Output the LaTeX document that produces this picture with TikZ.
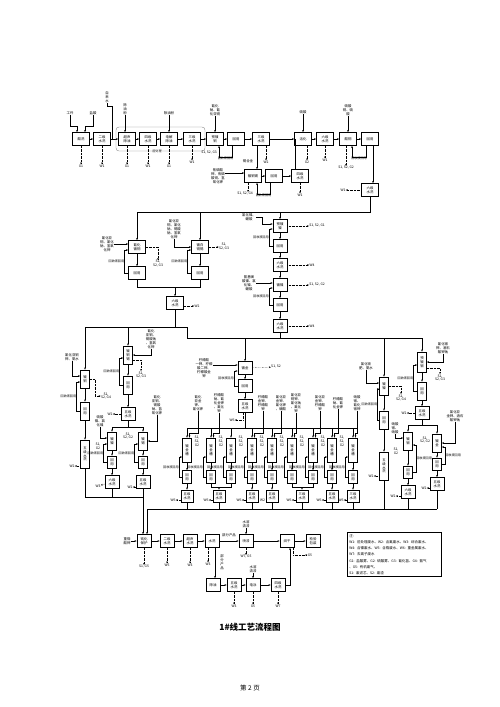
\documentclass[tikz,border=0pt]{standalone}
\usepackage{fontspec}
\setmainfont{Noto Sans CJK SC}
\usetikzlibrary{arrows.meta,calc}
\newcommand\ft{\fontsize{3.4}{3.9}\selectfont}
\newcommand\fsm{\fontsize{3.1}{3.6}\selectfont}
\tikzset{
 bx/.style={draw,line width=0.65pt,minimum width=17pt,minimum height=13pt,inner sep=0.2pt,align=center,font=\ft},
 sb/.style={draw,line width=0.65pt,minimum width=14pt,minimum height=13pt,inner sep=0.2pt,align=center,font=\ft},
 vb/.style={draw,line width=0.65pt,minimum width=9pt,minimum height=18pt,inner sep=0.2pt,align=center,font=\ft},
 lb/.style={inner sep=0.2pt,align=center,font=\ft},
 rl/.style={inner sep=0.3pt,font=\fsm},
 ar/.style={-{Stealth[length=2.2pt,width=1.8pt]},line width=0.45pt},
 ln/.style={line width=0.45pt},
 ou/.style={-{Stealth[length=2pt,width=1.7pt]},line width=0.4pt,densely dotted},
}
\newcommand\loopL[3]{\draw[ar] (#2.west) -- ++(-3.5,0) |- node[rl,pos=0.25,anchor=east,name=#3]{回收液回用} ([yshift=-3pt]#1.west);}
\newcommand\loopB[3]{\draw[ar] ([xshift=-4pt]#2.south) -- ++(0,11) -| node[rl,pos=0.25,below,name=#3]{回收液回用} ([xshift=4pt]#1.south);}
\begin{document}
\begin{tikzpicture}[x=1pt,y=-1pt]
\useasboundingbox (0,0) rectangle (500,707);
% ---------- top row ----------
\node[bx] (b1) at (81,139) {酸洗};
\node[bx] (b2) at (102,139) {二级\\水洗};
\node[bx] (b3) at (127,139) {超声\\除油};
\node[bx] (b4) at (148,139) {四级\\水洗};
\node[bx] (b5) at (169,139) {电解\\除油};
\node[bx] (b6) at (192,139) {三级\\水洗};
\node[bx] (b7) at (215,139) {预镀\\铜};
\node[bx] (b8) at (236,139) {回用};
\node[bx] (b9) at (261,139) {三级\\水洗};
\node[bx] (b10) at (303,139) {活化};
\node[bx] (b11) at (325,139) {六级\\水洗};
\node[bx] (b12) at (348,139) {酸铜};
\node[bx] (b13) at (370,139) {回用};
\node[bx] (b14) at (370,190) {六级\\水洗};
\foreach \a/\b in {b1/b2,b2/b3,b3/b4,b4/b5,b5/b6,b6/b7,b7/b8,b8/b9,b9/b10,b10/b11,b11/b12,b12/b13}
  \draw[ar] (\a) -- (\b);
\draw[ar] ([xshift=3pt]b13.south) -- ([xshift=3pt]b13.south |- b14.north);
\draw[line width=0.35pt,gray,rounded corners=3pt] (116,127) rectangle (205,151);
\node[rl,fill=white] (rg) at (157,151) {前处理};
% inputs
\node[lb] (t1) at (70,113) {工件};
\node[lb] (t2) at (93,113) {盐酸};
\draw[ar] (t1.south) -- ++(0,11) -| ([xshift=-4pt]b1.north);
\draw[ar] (t2.south) -- ++(0,11) -| ([xshift=4pt]b1.north);
\node[lb] (t3) at (107,97) {自\\来\\水};
\coordinate (q1) at (112,139);
\draw[ln] (t3.south) -- ++(0,3) -| (q1);
\node[lb] (t4) at (125,109) {除\\油\\粉};
\draw[ar] (t4.south) -- (t4.south |- b3.north);
\node[lb] (t5) at (169,113) {除油粉};
\draw[ar] (t5) -- (b5);
\node[lb] (t6) at (215,110) {氰化\\钠、氰\\化亚铜};
\draw[ar] (t6) -- (b7);
\node[lb] (t7) at (303,112) {硫酸};
\draw[ar] (t7) -- (b10);
\node[lb] (t8) at (348,110) {硫酸\\铜、硫\\酸};
\draw[ar] (t8) -- (b12);
% outputs
\node[lb] (w1) at (81,166) {G1}; \draw[ou] (b1) -- (w1);
\node[lb] (w2) at (102,166) {W1}; \draw[ou] (b2) -- (w2);
\node[lb] (w3) at (127,166) {G1}; \draw[ou] (b3) -- (w3);
\node[lb] (w4) at (148,166) {W1}; \draw[ou] (b4) -- (w4);
\node[lb] (w5) at (169,166) {G1}; \draw[ou] (b5) -- (w5);
\node[lb] (w6) at (192,162) {W1}; \draw[ou] (b6) -- (w6);
\node[lb] (w7) at (209,153) {S1, S2, G3};
\loopB{b7}{b8}{lp1}
\node[lb] (w9) at (266,162) {W2}; \draw[ou] ([xshift=5pt]b9.south) -- (w9);
\node[lb] (w10) at (307,162) {G2}; \draw[ou] ([xshift=4pt]b10.south) -- (w10);
\node[lb] (w11) at (325,160) {W1}; \draw[ou] (b11) -- (w11);
\node[lb] (w12) at (346,168) {S1, S2, G2}; \draw[ou] ([xshift=-2pt]b12.south) -- (w12);
\loopB{b12}{b13}{lp2}
\node[lb] (w14) at (343,190) {W1}; \draw[ou] (b14) -- (w14);
% ---------- second row ----------
\node[bx] (c1) at (253,176) {镀铜锡};
\node[bx] (c2) at (274,176) {回用};
\node[bx] (c3) at (300,176) {四级\\水洗};
\draw[ar] ([xshift=-4pt]b9.south) -- ([xshift=-4pt]b9.south |- c1.north);
\node[lb] (t9) at (248,161) {锡合金};
\draw[ar] (c1) -- (c2); \draw[ar] (c2) -- (c3);
\coordinate (q2) at (295,139);
\draw[ln] ([xshift=-5pt]c3.north) -- (q2);
\node[lb] (t10) at (218,176) {焦磷酸\\钾、焦磷\\酸铜、氢\\氧化钾};
\draw[ar] ([yshift=3pt]t10.east) -- ([yshift=3pt]c1.west);
\node[lb] (w15) at (245,194) {S1, S2, G4};
\draw[ou] ([xshift=-5pt]c1.south) -- ([xshift=-5pt]c1.south |- w15.north);
\loopB{c1}{c2}{lp3}
\node[lb] (w16) at (300,195) {W1}; \draw[ou] (c3) -- (w16);
% ---------- third section ----------
\coordinate (q3) at (370,212); \coordinate (q4) at (137,212);
\coordinate (q5) at (200,212); \coordinate (q6) at (280,212);
\draw[ln] (b14) -- (q3) -- (q4);
\node[bx] (d1) at (137,247) {氰化\\镀铜};
\node[bx] (d2) at (137,273) {回用};
\node[bx] (d3) at (200,247) {镀白\\铜锡};
\node[bx] (d4) at (200,273) {回用};
\draw[ar] (q4) -- (d1); \draw[ar] (q5) -- (d3);
\draw[ar] (d1) -- (d2); \draw[ar] (d3) -- (d4);
\loopL{d1}{d2}{lp4}
\loopL{d3}{d4}{lp5}
\node[lb] (t11) at (107,244) {氰化亚\\铜、氰化\\钠、氢氧\\化钾};
\draw[ar] (t11.east) -- (t11.east -| d1.west);
\node[lb] (t12) at (174,229) {氰化亚\\铜、氰化\\钠、锡酸\\钠、氢氧\\化钾};
\draw[ar] (t12.south) |- (d3.west);
\node[lb] (w17) at (158,264) {S1,\\S2, G3}; \draw[ou] (d1.east) -| (w17.north);
\node[lb] (w18) at (224,247) {S1,\\S2, G3}; \draw[ou] (d3.east) -- (w18.west);
\node[bx] (e1) at (175,303) {六级\\水洗};
\coordinate (q7) at (175,287);
\draw[ln] (d2) |- (q7); \draw[ln] (d4) |- (q7); \draw[ar] (q7) -- (e1);
\node[lb] (w20) at (197,306) {W2}; \draw[ou] ([yshift=-3pt]e1.east) -- (w20.west);
% nickel chain
\node[sb] (f1) at (280,226) {预镀\\镍};
\node[sb] (f2) at (280,246) {回用};
\node[sb] (f3) at (280,265) {六级\\水洗};
\node[sb] (f4) at (280,285) {镀镍};
\node[sb] (f5) at (280,305) {回用};
\node[sb] (f6) at (280,326) {六级\\水洗};
\draw[ar] (q6) -- (f1);
\foreach \a/\b in {f1/f2,f2/f3,f3/f4,f4/f5,f5/f6} \draw[ar] (\a) -- (\b);
\loopL{f1}{f2}{lp6}
\loopL{f4}{f5}{lp7}
\node[lb] (t13) at (249,217) {氯化镍、\\硼酸};
\draw[ar] (t13.east) -- ++(6,0) |- ([yshift=2pt]f1.west);
\node[lb] (t14) at (249,283) {氨基磺\\酸镍、氯\\化镍、\\硼酸};
\draw[ar] (t14.east) -- (t14.east -| f4.west);
\node[lb] (w21) at (317,226) {S1, S2, G1}; \draw[ou] (f1) -- (w21);
\node[lb] (w22) at (312,265) {W4}; \draw[ou] (f3) -- (w22);
\node[lb] (w23) at (317,285) {S1, S2, G2}; \draw[ou] (f4) -- (w23);
\node[lb] (w24) at (312,326) {W4}; \draw[ou] (f6) -- (w24);
% distribution lines
\coordinate (q8) at (175,327); \coordinate (q9) at (85,327);
\coordinate (q10) at (187,327); \coordinate (q11) at (187,338);
\coordinate (q12) at (422,338); \coordinate (q13) at (128,327);
\coordinate (q14) at (280,338);
\draw[ln] (e1) -- (q8);
\draw[ln] (q9) -- (q10) -- (q11) -- (q12);
\draw[ln] (f6) -- (q14);
% ---------- left columns ----------
\node[vb] (h1) at (85,379) {镀\\铜};
\node[vb] (h2) at (85,411) {回\\用};
\node[vb,minimum height=28pt] (h3) at (85,454) {五\\级\\水\\洗};
\draw[ar] (q9) -- (h1); \draw[ar] (h1) -- (h2); \draw[ar] (h2) -- (h3);
\loopL{h1}{h2}{lp8}
\node[lb] (t15) at (72,357) {氰化亚铜\\钾、氨水};
\draw[ar] (t15.south) |- ([yshift=3pt]h1.west);
\node[lb] (w25) at (106,396) {S1,\\S2, G4}; \draw[ou] (h1.east) -- ++(5,0) |- (w25.west);
\node[lb] (w26) at (72,466) {W2}; \draw[ou] ([yshift=-12pt]h3.west) -- (w26);
\node[vb] (i1) at (128,355) {镀\\铜\\锡};
\node[vb] (i2) at (128,385) {回\\用};
\node[sb] (i3) at (128,414) {五级\\水洗};
\draw[ar] (q13) -- (i1); \draw[ar] (i1) -- (i2); \draw[ar] (i2) -- (i3);
\loopL{i1}{i2}{lp9}
\node[lb] (t16) at (151,339) {氰化\\亚铜、\\锡酸钠\\、氢氧\\化钾};
\draw[ar] (t16.south) |- (i1.east);
\node[lb] (w27) at (141,375) {S1,\\S2, G3}; \draw[ou] ([yshift=-5pt]i1.east) -| (w27.north);
\node[lb] (w28) at (110,414) {W2}; \draw[ou] (i3) -- (w28);
\coordinate (q15) at (128,427); \coordinate (q16) at (112,427); \coordinate (q17) at (143,427);
\draw[ln] (i3) -- (q15); \draw[ln] (q16) -- (q17);
\node[vb] (g1) at (112,441) {镀\\镍};
\node[vb] (g2) at (143,441) {镀\\锡};
\node[vb,minimum height=12pt] (g3) at (112,462) {回\\用};
\node[vb,minimum height=12pt] (g4) at (143,462) {回\\用};
\node[sb] (g5) at (112,482) {六级\\水洗};
\node[sb] (g6) at (143,482) {五级\\水洗};
\draw[ar] (q16) -- (g1); \draw[ar] (q17) -- (g2);
\draw[ar] (g1) -- (g3); \draw[ar] (g2) -- (g4);
\draw[ar] (g3) -- (g5); \draw[ar] (g4) -- (g6);
\loopL{g1}{g3}{lp10}
\loopL{g2}{g4}{lp11}
\node[lb] (t17) at (100,421) {硫酸\\镍、氯\\化镍};
\draw[ar] (t17.south) |- ([yshift=3pt]g1.west);
\node[lb] (t18) at (157,405) {氰化\\亚铜、\\锡酸\\钠、氢\\氧化钾};
\draw[ar] (t18.south) |- (g2.east);
\node[lb] (w29) at (98,446) {S1,\\G2};
\node[lb] (w30) at (128,436) {S1,\\S2, G2};
\node[lb] (w31) at (98,486) {W3}; \draw[ou] (g5) -- (w31);
\node[lb] (w32) at (130,487) {W2}; \draw[ou] ([yshift=-5pt]g6.west) -- (w32.east);
\coordinate (q18) at (85,497); \coordinate (q19) at (143,497); \coordinate (q20) at (112,497);
\draw[ln] (h3) -- (q18) -- (q19);
\draw[ln] (g5) -- (q20);
% ---------- gold column ----------
\coordinate (q22) at (245,338);
\node[sb] (m1) at (245,368) {镀金};
\node[sb] (m2) at (245,386) {回用};
\node[sb] (m3) at (245,406) {五级\\水洗};
\draw[ar] (q22) -- (m1); \draw[ar] (m1) -- (m2); \draw[ar] (m2) -- (m3);
\loopL{m1}{m2}{lp12}
\node[lb] (t19) at (204,368) {柠檬酸\\一钾、柠檬\\酸二钾、\\柠檬酸金\\钾};
\draw[ar] ([yshift=3pt]t19.east) -- ([yshift=3pt]m1.west);
\node[lb] (w33) at (276,367) {S1, S2}; \draw[ou] (m1) -- (w33);
\node[lb] (w34) at (232,420) {W6}; \draw[ou] ([xshift=-2pt]m3.south) |- (w34.east);
% ---------- lower group ----------
\coordinate (q33) at (0,433);
\foreach \i/\x in {1/187,2/211,3/231,4/252,5/272,6/292,7/313,8/332,9/353}{
  \coordinate (u\i) at (\x,428);
  \node[vb,minimum height=24pt] (la\i) at (\x,450) {镀\\金\\槽};
  \node[vb,minimum height=13pt] (lr\i) at (\x,477) {回\\用};
  \draw[ar] (u\i) -- (la\i);
  \draw[ar] (la\i) -- (lr\i);
  \draw[ar] (lr\i.west) -- ++(-3,0) |- node[rl,pos=0.25,anchor=east,name=lq\i]{回收液回用} ([yshift=-7pt]la\i.west);
}
\coordinate (u10) at (357,428);
\draw[ln] (u1) -- (u10);
\draw[ln] (m3) -- (m3 |- u1);
\foreach \i/\x/\tx in {1/198/{氰化\\亚金\\钾、\\氰化钾},2/219/{柠檬酸\\钠、氰\\化金钾\\、氰化\\钾},4/263/{柠檬酸\\金钾、\\柠檬酸\\钾},5/281/{氰化亚\\金钾、\\氰化钾\\、硼酸},6/296/{氰化亚\\铜钾、\\氰化钠\\、氰化\\钾},7/320/{氯化亚\\金钾、\\柠檬酸\\钾},8/338/{柠檬酸\\钠、氰\\化金钾},9/357/{硝酸\\银、\\氰化\\银钾}}{
  \node[lb] (lt\i) at (\x,403) {\tx};
  \draw[ar] (lt\i.south) -- (lt\i.south |- q33) -| ([xshift=2.5pt]la\i.north);
}
\foreach \i/\x in {1/187,2/211,3/231,4/252,5/272,6/292,7/313,8/332}{
  \node[lb] (ls\i) at (\x+10,441) {S1,\\S2,\\G2};
}
\tikzset{wb/.style={sb,minimum width=12pt,minimum height=12pt}}
\node[wb] (lw1) at (187,496) {五级\\水洗};
\node[wb] (lw2) at (219,496) {五级\\水洗};
\node[wb] (lw3) at (252,496) {五级\\水洗};
\node[wb] (lw4) at (272,496) {五级\\水洗};
\node[wb] (lw5) at (302,496) {三级\\水洗};
\node[wb] (lw6) at (332,496) {五级\\水洗};
\node[wb] (lw7) at (353,496) {三级\\水洗};
\coordinate (ym2) at (219,487); \coordinate (ym5) at (302,487);
\draw[ar] (lr1) -- (lw1);
\draw[ln] (lr2) |- (ym2); \draw[ln] (lr3) |- (ym2); \draw[ar] (ym2) -- (lw2);
\draw[ar] (lr4) -- (lw3);
\draw[ar] (lr5) -- (lw4);
\draw[ln] (lr6) |- (ym5); \draw[ln] (lr7) |- (ym5); \draw[ar] (ym5) -- (lw5);
\draw[ar] (lr8) -- (lw6);
\draw[ar] (lr9) -- (lw7);
\foreach \i/\x in {1/173,2/206,3/239,5/289,6/319,7/341}{
  \node[lb] (lwo\i) at (\x,500) {W6};
  \draw[ou] ([yshift=-4pt]lw\i.west) -- (lwo\i.east);
}
\node[lb] (lwo4) at (262.5,500) {W2};
% ---------- right columns ----------
\coordinate (q26) at (384,338);
\node[vb] (n1) at (384,386) {镀\\镍};
\node[vb] (n2) at (384,420) {回\\用};
\node[vb,minimum height=28pt] (n3) at (384,466) {五\\级\\水\\洗};
\draw[ar] (q26) -- (n1); \draw[ar] (n1) -- (n2); \draw[ar] (n2) -- (n3);
\draw[ar] (n2.west) -- ++(-1.5,0) |- node[rl,pos=0.25,anchor=east,name=lp13]{回收液回用} ([yshift=-3pt]n1.west);
\node[lb] (t20) at (366,366) {氯化铵\\肥、氨水};
\draw[ar] (t20.south) |- ([yshift=3pt]n1.west);
\node[lb] (w35) at (401,398) {S1,\\S2, G4}; \draw[ou] (n1.east) -| (w35.north);
\node[lb] (w36) at (371,476) {W2}; \draw[ou] ([yshift=-10pt]n3.west) -- (w36.east);
\node[vb,minimum height=20pt] (v1) at (422,362) {预\\镀\\银};
\node[vb] (v2) at (422,391) {回\\用};
\node[sb] (v3) at (422,413) {五级\\水洗};
\draw[ar] (q12) -- (v1); \draw[ar] (v1) -- (v2); \draw[ar] (v2) -- (v3);
\loopL{v1}{v2}{lp14}
\node[lb] (t21) at (443,348) {氰化银\\钾、酒石\\酸钾钠};
\draw[ar] (t21.south) |- (v1.east);
\node[lb] (w37) at (440,378) {S1,\\S2, G3}; \draw[ou] ([yshift=-6pt]v1.east) -| (w37.north);
\node[lb] (w38) at (404,413) {W2}; \draw[ou] (v3) -- (w38);
\coordinate (q27) at (422,425); \coordinate (q30) at (408,425); \coordinate (q31) at (437,425);
\draw[ln] (v3) -- (q27); \draw[ln] (q30) -- (q31);
\node[vb] (p1) at (408,441) {镀\\银};
\node[vb] (p2) at (437,443) {镀\\金};
\node[vb,minimum height=12pt] (p3) at (408,472) {回\\用};
\node[vb,minimum height=12pt] (p4) at (437,464) {回\\用};
\node[sb] (p5) at (408,492) {六级\\水洗};
\node[sb] (p6) at (437,484) {五级\\水洗};
\draw[ar] (q30) -- (p1); \draw[ar] (q31) -- (p2);
\draw[ar] (p1) -- (p3); \draw[ar] (p2) -- (p4);
\draw[ar] (p3) -- (p5); \draw[ar] (p4) -- (p6);
\draw[ar] (p3.east) -- ++(3,0) |- node[rl,pos=0.25,anchor=west,name=lp15]{回收液回用} ([yshift=-4pt]p1.east);
\draw[ar] (p4.east) -- ++(3,0) |- node[rl,pos=0.25,anchor=west,name=lp16]{回收液回用} ([yshift=-4pt]p2.east);
\node[lb] (t22) at (395,428) {硝酸\\银、\\硝酸};
\draw[ar] (t22.south) |- ([yshift=3pt]p1.west);
\node[lb] (t23) at (455,416) {氯化亚\\金钾、酒石\\酸钾钠};
\draw[ar] (t23.south) |- (p2.east);
\node[lb] (w39) at (396,451) {S1,\\G2};
\node[lb] (w40) at (425,440) {S1,\\S2, G2};
\node[lb] (w41) at (393,496) {W2}; \draw[ou] ([yshift=-4pt]p5.west) -- (w41.east);
\node[lb] (w42) at (424,488) {W2}; \draw[ou] ([yshift=-4pt]p6.west) -- (w42.east);
% bottom collector
\coordinate (q28) at (437,509); \coordinate (q29) at (147,509);
\draw[ln] (q29) -- (q28);
\foreach \n in {lw1,lw2,lw3,lw4,lw5,lw6,lw7,n3,p5} \draw[ln] (\n) -- (\n |- q28);
\draw[ln] (p6) -- (q28);
% ---------- bottom row ----------
\node[sb] (k1) at (144,541) {钝化\\保护};
\node[sb] (k2) at (167,541) {二级\\水洗};
\node[sb] (k3) at (190,541) {超声\\水洗};
\node[sb] (k4) at (212,541) {水洗};
\node[sb] (k5) at (246,541) {喷漆};
\node[sb] (k6) at (287,541) {烘干};
\node[sb] (k7) at (313,541) {检验\\包装};
\draw[ar] (g6.south) -- (g6.south |- k1.north);
\draw[ar] (q29) -- (q29 |- k1.north);
\node[lb] (t24) at (127,541) {重铬\\酸钾}; \draw[ar] (t24) -- (k1);
\foreach \a/\b in {k1/k2,k2/k3,k3/k4,k4/k5,k5/k6,k6/k7} \draw[ar] (\a) -- (\b);
\node[lb] (t25) at (229,535) {部分产品};
\node[lb] (t26) at (246,524) {水溶\\清漆}; \draw[ar] (t26) -- (k5);
\node[lb] (w43) at (144,567) {S1, G5}; \draw[ou] (k1) -- (w43);
\node[lb] (w44) at (167,565) {W5}; \draw[ou] (k2) -- (w44);
\node[lb] (w45) at (190,565) {W3}; \draw[ou] (k3) -- (w45);
\node[lb] (w46) at (208,564) {W3}; \draw[ou] ([xshift=-4pt]k4.south) -- (w46);
\node[lb] (w47) at (246,557) {W7, G5}; \draw[ou] (k5) -- (w47);
\node[lb] (w48) at (310,555) {G5}; \draw[ou] ([xshift=-1pt]k6.south east) |- (w48.west);
\node[sb] (r1) at (213,585) {除油};
\node[sb] (r2) at (234,585) {五级\\水洗};
\node[sb] (r3) at (253,585) {电泳};
\node[sb] (r4) at (278,585) {四级\\水洗};
\draw[ar] ([xshift=3pt]k4.south) -- ([xshift=3pt]k4.south |- r1.north);
\node[lb] (t27) at (222,562) {部\\分\\产\\品};
\foreach \a/\b in {r1/r2,r2/r3,r3/r4} \draw[ar] (\a) -- (\b);
\draw[ar] (r4.east) -| ([xshift=3pt]k6.south);
\node[lb] (t28) at (253,569) {水溶\\清漆}; \draw[ar] (t28) -- (r3);
\node[lb] (w49) at (234,606) {W3}; \draw[ou] (r2) -- (w49);
\node[lb] (w50) at (253,606) {G5}; \draw[ou] (r3) -- (w50);
\node[lb] (w51) at (278,606) {W7}; \draw[ou] (r4) -- (w51);
% ---------- legend ----------
\node[draw,line width=0.6pt,anchor=north west,text width=90pt,align=left,inner sep=2pt,font=\fontsize{3.5}{6.2}\selectfont] (lg) at (347,532) {注:\\W1: 前处理废水、W2: 含氰废水、W3: 综合废水、\\W4: 含镍废水、W5: 含铬废水、W6: 重金属废水、\\W7: 去离子废水\\G1: 盐酸雾、G2: 硫酸雾、G3: 氰化氢、G4: 氨气\\、G5: 有机废气、\\S1: 废滤芯、S2: 废渣};
% ---------- title ----------
\node[font=\fontsize{8.5}{10}\selectfont\bfseries] (ttl) at (250,627) {1\#线工艺流程图};
\node[font=\fontsize{6.5}{8}\selectfont] (pg) at (250,688) {第 2 页};
\end{tikzpicture}
\end{document}
